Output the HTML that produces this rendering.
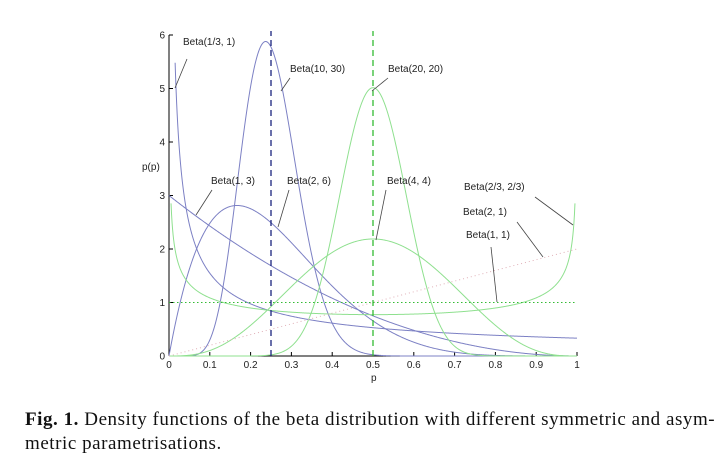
<!DOCTYPE html>
<html><head><meta charset="utf-8"><style>
body{margin:0;background:#fff;width:720px;height:470px;overflow:hidden;position:relative}
svg text{font-family:"Liberation Sans",sans-serif;font-size:10px;fill:#222}
.cap{position:absolute;left:25px;top:408px;width:700px;font-family:"Liberation Serif",serif;font-size:19px;letter-spacing:0.55px;line-height:24px;color:#111;white-space:nowrap}
</style></head><body>
<svg id="chart" width="720" height="400" style="position:absolute;left:0;top:0"></svg>
<div class="cap"><b>Fig. 1.</b> Density functions of the beta distribution with different symmetric and asym-<br>metric parametrisations.</div>
<script>
const seriesNames=["Beta(1/3, 1)","Beta(10, 30)","Beta(1, 3)","Beta(2, 6)","Beta(20, 20)","Beta(4, 4)","Beta(2/3, 2/3)","Beta(2, 1)","Beta(1, 1)"];
const alphas=[1/3,10,1,2,20,4,2/3,2,1];
const betas=[1,30,3,6,20,4,2/3,1,1];
const colors=["#7c80c4","#7c80c4","#7c80c4","#7c80c4","#8fe08f","#8fe08f","#8fe08f","#e0b0b8","#33bb33"];
const dashes=["","","","","","","","1,3","1.5,2.5"];
const xTicks=[0,0.1,0.2,0.3,0.4,0.5,0.6,0.7,0.8,0.9,1];
const xTickLabels=["0","0.1","0.2","0.3","0.4","0.5","0.6","0.7","0.8","0.9","1"];
const yTicks=[0,1,2,3,4,5,6];
const vLines=[0.25,0.5];
const vColors=["#1a237e","#33bb33"];
const labelPos=[[183,45,175,88,187,59],[290,72,281,91,290,78],[211,184,196,215,212,190],[287,184,278,227,289,190],[388,72,372,91,388,78],[387,184,376,240,386,190],[464,190,535,197,573,225],[463,215,517,222,543,257],[466,238,491,247,497,302]];
const X0=169,X1=577,Y0=356,YS=53.5;
const sx=v=>X0+v*(X1-X0), sy=v=>Y0-v*YS;
function lg(z){const g=[676.5203681218851,-1259.1392167224028,771.32342877765313,-176.61502916214059,12.507343278686905,-0.13857109526572012,9.9843695780195716e-6,1.5056327351493116e-7];if(z<0.5)return Math.log(Math.PI/Math.sin(Math.PI*z))-lg(1-z);z-=1;let x=0.99999999999980993;for(let i=0;i<8;i++)x+=g[i]/(z+i+1);const t=z+7.5;return 0.5*Math.log(2*Math.PI)+(z+0.5)*Math.log(t)-t+Math.log(x);}
function pdf(x,a,b){return Math.exp((a-1)*Math.log(x)+(b-1)*Math.log(1-x)+lg(a+b)-lg(a)-lg(b));}
const svg=document.getElementById('chart');const NS="http://www.w3.org/2000/svg";
function mk(t,at,parent){const e=document.createElementNS(NS,t);for(const k in at)e.setAttribute(k,at[k]);(parent||svg).appendChild(e);return e;}
let e=mk('line',{x1:X0,y1:Y0,x2:X1,y2:Y0,stroke:'#000','stroke-width':1});


e=mk('line',{x1:X0,y1:Y0,x2:X0,y2:sy(6),stroke:'#000','stroke-width':1});


xTicks.forEach((t,i)=>{mk('line',{x1:sx(t),y1:Y0,x2:sx(t),y2:Y0-4,stroke:'#000'});
 const tx=mk('text',{x:sx(t),y:Y0+12,'text-anchor':'middle'});tx.textContent=xTickLabels[i];
 
 });
yTicks.forEach(t=>{mk('line',{x1:X0,y1:sy(t),x2:X0+4,y2:sy(t),stroke:'#000'});
 const tx=mk('text',{x:X0-4,y:sy(t)+3.5,'text-anchor':'end'});tx.textContent=String(t);
 
 });
seriesNames.forEach((n,i)=>{const a=alphas[i],b=betas[i];const ymax=(a<1||b<1)?(a<1&&b<1?3:5.5):6;let pts=[];
 for(let k=0;k<=800;k++){let x=k/800;if(x===0)x=1e-6;if(x===1)x=1-1e-6;const v=pdf(x,a,b);if(v>ymax)continue;pts.push(sx(x).toFixed(2)+','+sy(v).toFixed(2));}
 const p=mk('polyline',{points:pts.join(' '),fill:'none',stroke:colors[i],'stroke-width':1,'stroke-dasharray':dashes[i]});
 
 });
vLines.forEach((v,i)=>{const l=mk('line',{x1:sx(v),y1:Y0,x2:sx(v),y2:sy(6)-4,stroke:vColors[i],'stroke-width':1.3,'stroke-dasharray':'6,4'});
 
 });
labelPos.forEach((p,i)=>{const t=mk('text',{x:p[0],y:p[1]});t.textContent=seriesNames[i];
 
 
 mk('line',{x1:p[2],y1:p[3],x2:p[4],y2:p[5],stroke:'#444','stroke-width':0.8});});
let t=mk('text',{x:142,y:170});t.textContent='p(p)';


t=mk('text',{x:371,y:381});t.textContent='p';


</script>
</body></html>
